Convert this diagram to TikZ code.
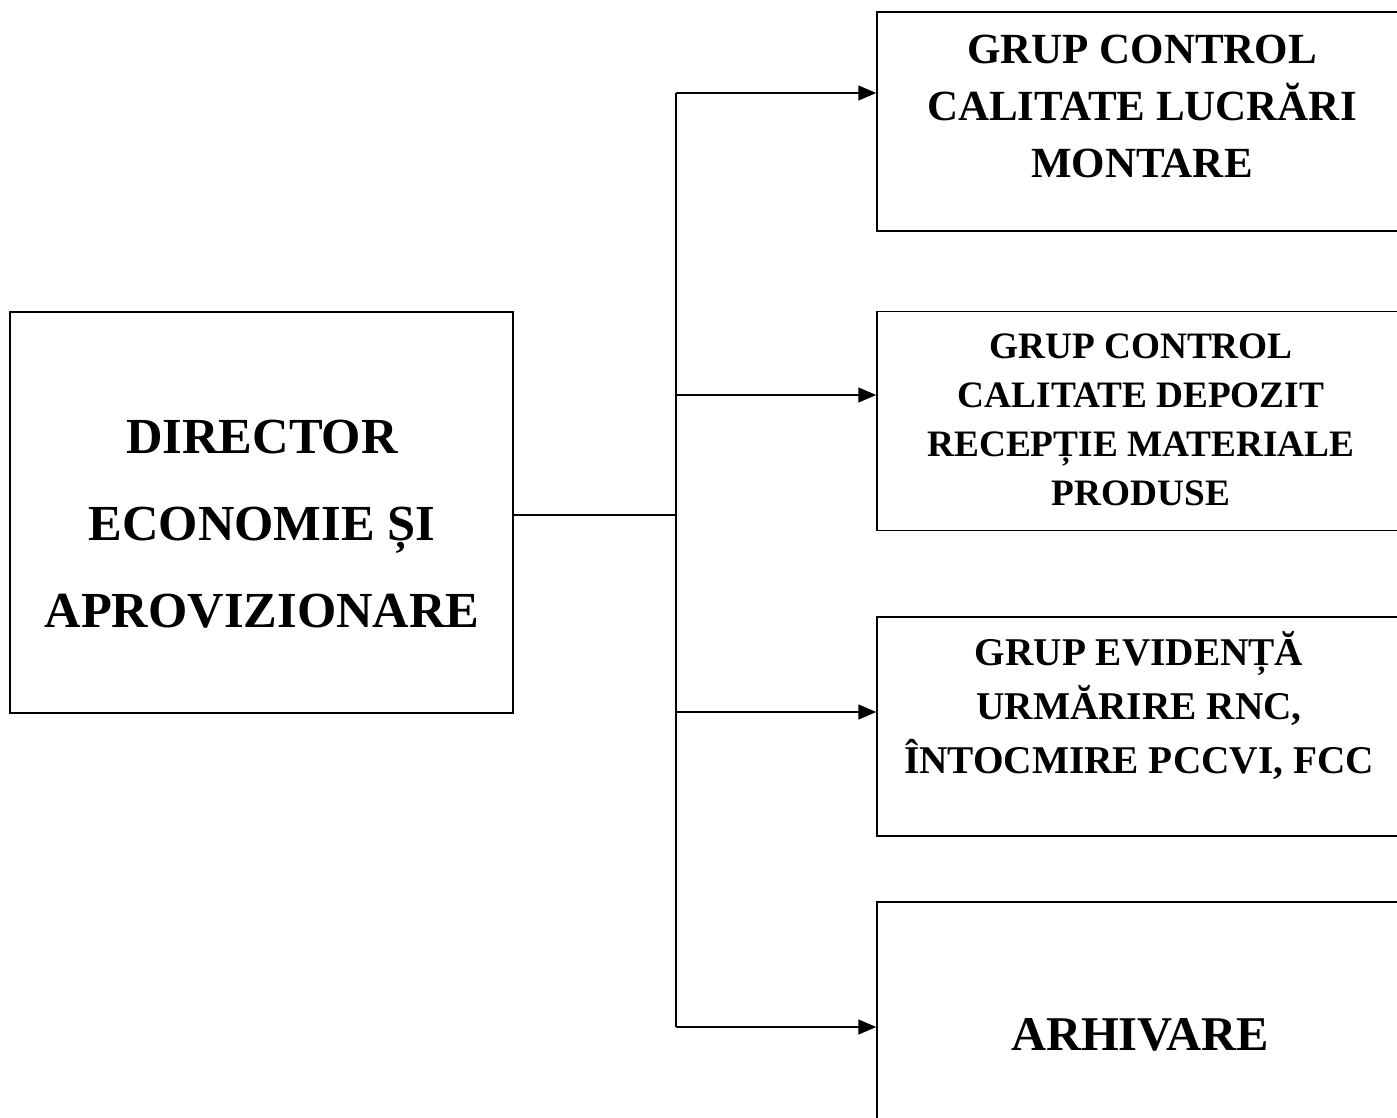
\documentclass[tikz,border=0pt]{standalone}
\usepackage{fontspec}
\setmainfont{Liberation Serif}
\usetikzlibrary{arrows.meta,positioning,calc}
\tikzset{
  unit/.style  ={rectangle, draw=black, line width=1.5pt, inner sep=0pt,
                 minimum width=526pt, minimum height=219pt},
  head/.style  ={unit, minimum width=503pt, minimum height=401pt},   % director
  lbl/.style 2 args={align=center, inner sep=0pt,
                 font=\bfseries\fontsize{#1}{#2}\selectfont},
  link/.style  ={line width=1.5pt, draw=black},
  flow/.style  ={link, -{Triangle[length=18pt,width=15pt]}},
}

\begin{document}
\begin{tikzpicture}[x=1pt,y=-1pt]
  \useasboundingbox (0,0) rectangle (1397,1117);
  \clip (0,0) rectangle (1397,1117);
  % boxes
  \node[head] (dir)  at (261.5,512.5) {};
  \node[unit] (grpA) at (1140,121.5)  {};
  \node[unit] (grpB) at (1140,421)    {};
  \node[unit] (grpC) at (1140,726.5)  {};
  \node[unit] (arh)  at (1140,1011.5) {};
  % texts
  \node[lbl={50.5}{87}] (dirT)  at (262,524)  {DIRECTOR\\ECONOMIE ȘI\\APROVIZIONARE};
  \node[lbl={43}{57}]   (grpAT) at (1142,106) {GRUP CONTROL\\CALITATE LUCRĂRI\\MONTARE};
  \node[lbl={37.3}{49}] (grpBT) at (1141,420) {GRUP CONTROL\\CALITATE DEPOZIT\\RECEPȚIE MATERIALE\\PRODUSE};
  \node[lbl={39.3}{54}] (grpCT) at (1139,705) {GRUP EVIDENȚĂ\\URMĂRIRE RNC,\\ÎNTOCMIRE PCCVI, FCC};
  \node[lbl={48.5}{56}] (arhT)  at (1140,1035) {ARHIVARE};
  % connectors
  \coordinate (jn)  at (676,515);
  \coordinate (brA) at (676,93);
  \coordinate (brB) at (676,395);
  \coordinate (brC) at (676,712);
  \coordinate (brD) at (676,1027);
  \draw[link] (dir.east |- jn) -- (jn);
  \draw[link] (brA) -- (brD);
  \draw[flow] (brA) -- (brA -| grpA.west);
  \draw[flow] (brB) -- (brB -| grpB.west);
  \draw[flow] (brC) -- (brC -| grpC.west);
  \draw[flow] (brD) -- (brD -| arh.west);
\end{tikzpicture}
\end{document}
